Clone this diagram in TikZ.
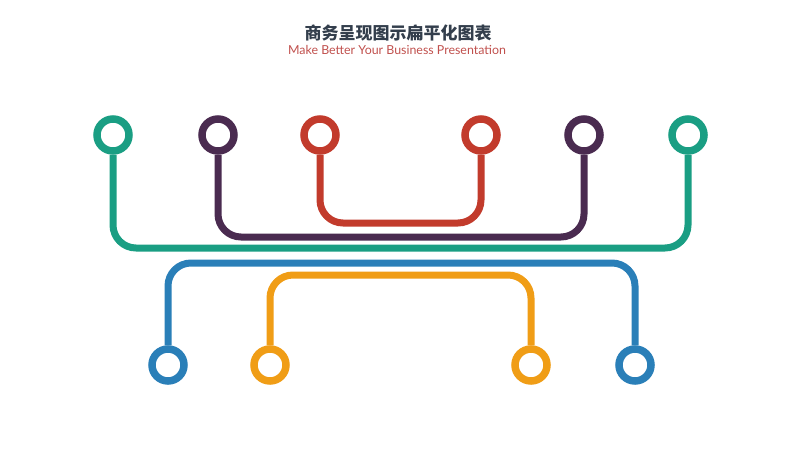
\documentclass[tikz,border=0pt]{standalone}
\usepackage{fontspec}
\setmainfont{Lato}
\newfontfamily\cjk{Noto Sans CJK SC}
\usepackage{tikz}
\usetikzlibrary{positioning}

\definecolor{seagreen}{HTML}{1A9E83}
\definecolor{plum}{HTML}{4A2B50}
\definecolor{brick}{HTML}{C23B2C}
\definecolor{ocean}{HTML}{2A7FB8}
\definecolor{amber}{HTML}{F09D16}
\definecolor{slate}{HTML}{333E4C}
\definecolor{rose}{HTML}{C0504D}

\begin{document}
\begin{tikzpicture}[x=1pt, y=-1pt,
	ring/.style={circle, draw=#1, fill=white, line width=7.5pt, minimum size=32pt, inner sep=0pt},
	pipe/.style={draw=#1, line width=7pt, rounded corners=23pt}]
	\useasboundingbox (0,0) rectangle (800,450);

	% Titles
	\node [text=slate, font=\cjk\bfseries\fontsize{17}{20}\selectfont]	(title)		at (398,33)		{商务呈现图示扁平化图表};
	\node [text=rose, font=\fontsize{12.4}{14}\selectfont]				(subtitle)	at (397,50)		{Make Better Your Business Presentation};

	% Nodes {top row, bottom row}
	\node [ring=seagreen]	(t1) at (113,135) {};
	\node [ring=plum]		(t2) at (218,135) {};
	\node [ring=brick]		(t3) at (320,135) {};
	\node [ring=brick]		(t4) at (481,135) {};
	\node [ring=plum]		(t5) at (584,135) {};
	\node [ring=seagreen]	(t6) at (688,135) {};

	\node [ring=ocean]		(b1) at (168,365) {};
	\node [ring=amber]		(b2) at (270,365) {};
	\node [ring=amber]		(b3) at (531,365) {};
	\node [ring=ocean]		(b4) at (635,365) {};

	% Bar levels
	\coordinate (redbar)	at (400,223);
	\coordinate (plumbar)	at (400,237);
	\coordinate (greenbar)	at (400,248);
	\coordinate (bluebar)	at (400,263);
	\coordinate (amberbar)	at (400,275);

	% Paths
	\draw [pipe=brick]		(t3.south) |- (redbar)		-| (t4.south);
	\draw [pipe=plum]		(t2.south) |- (plumbar)		-| (t5.south);
	\draw [pipe=seagreen]	(t1.south) |- (greenbar)	-| (t6.south);
	\draw [pipe=ocean]		(b1.north) |- (bluebar)		-| (b4.north);
	\draw [pipe=amber]		(b2.north) |- (amberbar)	-| (b3.north);

\end{tikzpicture}
\end{document}
